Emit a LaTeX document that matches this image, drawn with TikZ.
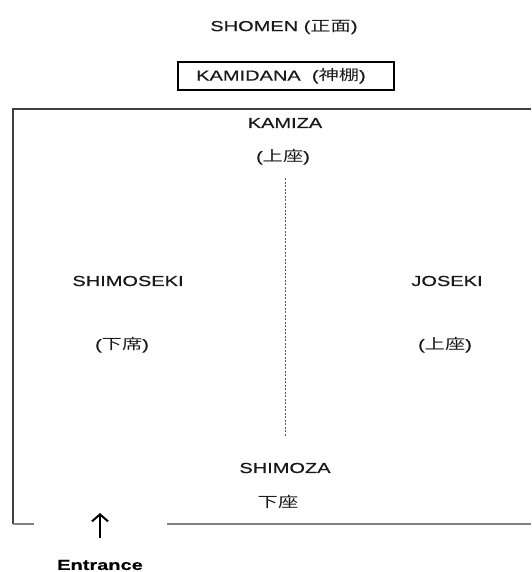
\documentclass[tikz,border=0pt]{standalone}
\usepackage{fontspec}
\setmainfont{Liberation Sans}[FakeStretch=1.38,FakeBold=0.5]
\newfontfamily\cjk{Noto Sans CJK JP}[FakeStretch=1.4]
\usetikzlibrary{arrows.meta}
\begin{document}
\begin{tikzpicture}[x=1pt,y=-1pt,
  txt/.style={font=\fontsize{14.5}{17}\selectfont, inner sep=0pt, text=black!90},
  wall/.style={draw=black!75, line width=1.3pt},
  wallb/.style={draw=black!50, line width=1.3pt},
  axis/.style={draw=black!65, line width=0.8pt, dash pattern=on 2pt off 1.5pt},
  shelf/.style={draw=black, line width=2.4pt, minimum width=216pt, minimum height=28pt, inner sep=0pt}]
\useasboundingbox (0,0) rectangle (531,572);
\node[txt] (shomen) at (284,27) {SHOMEN ({\cjk 正面})};
\node[shelf] (kbox) at (286,76) {};
\node[txt] (kamidana) at (281,76) {KAMIDANA\ \ ({\cjk 神棚})};
\node[txt] (kamiza) at (285,123) {KAMIZA};
\node[txt] (kamizaj) at (283,157) {({\cjk 上座})};
\node[txt] (shimoseki) at (128,281) {SHIMOSEKI};
\node[txt] (shimosekij) at (122,345) {({\cjk 下席})};
\node[txt] (joseki) at (447,281) {JOSEKI};
\node[txt] (josekij) at (445,345) {({\cjk 上座})};
\node[txt] (shimoza) at (285,468) {SHIMOZA};
\node[txt] (shimozaj) at (278,502) {{\cjk 下座}};
\node[txt, text=black, font=\fontsize{14.5}{17}\selectfont\bfseries] (entrance) at (100,565) {Entrance};
\coordinate (tl) at (13,109);
\coordinate (tr) at (531,109);
\coordinate (bl) at (13,524);
\coordinate (d1) at (34,524);
\coordinate (d2) at (167,524);
\coordinate (br) at (531,524);
\coordinate (ax1) at (285,178);
\coordinate (ax2) at (285,437);
\coordinate (ar1) at (100,538);
\coordinate (ar2) at (100,513);
\draw[wall] (tr) -- (tl) -- (bl);
\draw[wallb] (bl) -- (d1);
\draw[wallb] (d2) -- (br);
\draw[axis] (ax1) -- (ax2);
\draw[line width=2pt, -{Straight Barb[length=7pt,width=16pt]}] (ar1) -- (ar2);
\end{tikzpicture}
\end{document}
